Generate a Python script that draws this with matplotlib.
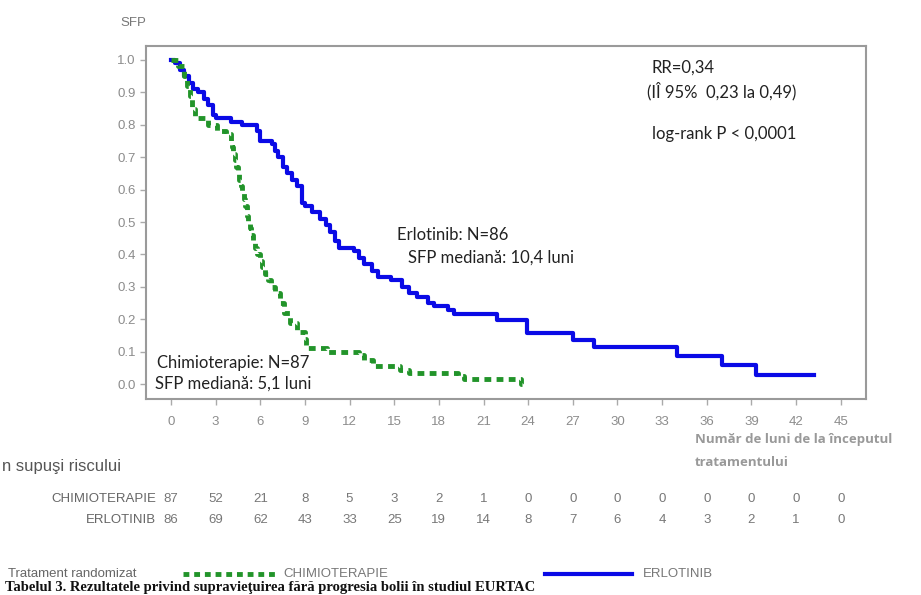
import matplotlib
matplotlib.use("Agg")
import matplotlib.pyplot as plt
from matplotlib.lines import Line2D
from matplotlib.transforms import blended_transform_factory

# Kaplan-Meier steps
erlo_t = [0, 0.3, 0.6, 0.9, 1.2, 1.5, 1.8, 2.2, 2.5, 2.8, 3.0, 4.0, 4.8, 5.8, 6.0, 6.8,
          7.0, 7.2, 7.5, 7.8, 8.1, 8.5, 8.8, 9.0, 9.5, 10.0, 10.4, 10.7, 11.0, 11.3, 12.3,
          12.6, 13.0, 13.5, 13.9, 14.8, 15.5, 16.0, 16.5, 17.3, 17.7, 18.6, 19.0, 21.9,
          23.9, 27.0, 28.4, 34.0, 37.0, 39.3, 43.2]
erlo_s = [1.0, 0.99, 0.97, 0.95, 0.93, 0.91, 0.90, 0.88, 0.86, 0.83, 0.82, 0.81, 0.80,
          0.78, 0.75, 0.74, 0.72, 0.70, 0.67, 0.65, 0.63, 0.61, 0.56, 0.55, 0.53, 0.51,
          0.49, 0.47, 0.44, 0.42, 0.41, 0.39, 0.37, 0.35, 0.33, 0.32, 0.30, 0.28, 0.27,
          0.25, 0.24, 0.23, 0.215, 0.198, 0.158, 0.136, 0.115, 0.087, 0.059, 0.028, 0.028]

chemo_t = [0, 0.5, 0.9, 1.1, 1.3, 1.4, 1.6, 2.5, 3.1, 3.7, 4.0, 4.1, 4.2, 4.3, 4.4, 4.5,
           4.6, 4.7, 4.8, 4.9, 5.0, 5.1, 5.2, 5.3, 5.4, 5.5, 5.65, 5.8, 5.95, 6.1, 6.3,
           6.5, 6.7, 7.0, 7.3, 7.6, 8.0, 8.5, 9.0, 9.1, 10.5, 12.6, 13.0, 13.6, 15.4,
           16.0, 19.3, 19.7, 23.5, 23.6]
chemo_s = [1.0, 0.98, 0.95, 0.92, 0.89, 0.85, 0.82, 0.80, 0.78, 0.77, 0.75, 0.73, 0.71,
           0.69, 0.67, 0.65, 0.63, 0.61, 0.59, 0.57, 0.55, 0.52, 0.50, 0.48, 0.46, 0.44,
           0.42, 0.40, 0.38, 0.36, 0.34, 0.32, 0.30, 0.28, 0.25, 0.22, 0.19, 0.16, 0.14,
           0.11, 0.10, 0.09, 0.075, 0.055, 0.043, 0.034, 0.025, 0.015, 0.0, 0.0]

months = list(range(0, 46, 3))
risk_chemo = [87, 52, 21, 8, 5, 3, 2, 1, 0, 0, 0, 0, 0, 0, 0, 0]
risk_erlo = [86, 69, 62, 43, 33, 25, 19, 14, 8, 7, 6, 4, 3, 2, 1, 0]

blue = "#0a0ae6"
green = "#22942a"
grey = "#8c8c8c"
calibri = ["Lato", "DejaVu Sans"]
narrow = ["Liberation Sans Narrow", "Liberation Sans", "DejaVu Sans"]

fig = plt.figure(figsize=(9.21, 5.95), dpi=100)
ax = fig.add_axes([0.1585, 0.3294, 0.7818, 0.5933])

ax.step(erlo_t, erlo_s, where="post", color=blue, lw=3.0, zorder=3)
ax.step(chemo_t, chemo_s, where="post", color=green, lw=3.5,
        linestyle=(0, (1.4, 1.1)), zorder=3)

ax.set_xlim(-1.68, 46.7)
ax.set_ylim(-0.046, 1.043)
ax.set_xticks(months)
ax.set_yticks([i / 10 for i in range(11)])
ax.set_yticklabels([f"{i / 10:.1f}" for i in range(11)])
ax.tick_params(colors="#aaaaaa", labelcolor=grey, labelsize=9.5, length=4, width=1)
for lab in ax.get_xticklabels() + ax.get_yticklabels():
    lab.set_family(narrow)
ax.tick_params(axis="x", pad=8)
for sp in ax.spines.values():
    sp.set_color("#9a9a9a")
    sp.set_linewidth(1.5)

fig.text(120 / 921, 1 - 23 / 595, "SFP", color="#777777", fontsize=9.5,
         va="center", ha="left", family=narrow)

# annotations
ax.text(32.3, 0.975, "RR=0,34", fontsize=12, family=calibri, va="center", color="#222222")
ax.text(32.0, 0.905, "(IÎ 95%  0,23 la 0,49)", fontsize=12, family=calibri,
        va="center", color="#222222")
ax.text(32.3, 0.77, "log-rank P < 0,0001", fontsize=12, family=calibri,
        va="center", color="#222222")
ax.text(15.2, 0.46, "Erlotinib: N=86", fontsize=12, family=calibri, va="center",
        color="#222222")
ax.text(15.9, 0.39, "SFP mediană: 10,4 luni", fontsize=12, family=calibri,
        va="center", color="#222222")
ax.text(-0.95, 0.065, "Chimioterapie: N=87", fontsize=12, family=calibri,
        va="center", color="#222222", zorder=4)
ax.text(-1.1, 0.0, "SFP mediană: 5,1 luni", fontsize=12, family=calibri,
        va="center", color="#222222", zorder=4)

fig.text(695 / 921, 1 - 440 / 595, "Număr de luni de la începutul", color="#999999",
         fontsize=9.5, fontweight="bold", family=["Open Sans", "DejaVu Sans"], va="center")
fig.text(695 / 921, 1 - 462 / 595, "tratamentului", color="#999999",
         fontsize=9.5, fontweight="bold", family=["Open Sans", "DejaVu Sans"], va="center")

# number at risk table
fig.text(2 / 921, 1 - 467 / 595, "n supuşi riscului", color="#555555", fontsize=12,
         family=narrow, va="center")
trans = blended_transform_factory(ax.transData, fig.transFigure)
row_y = [1 - 499 / 595, 1 - 520 / 595]
ax.text(-1.0, row_y[0], "CHIMIOTERAPIE", transform=trans, ha="right", va="center",
        color="#666666", fontsize=9.5, family=narrow)
ax.text(-1.0, row_y[1], "ERLOTINIB", transform=trans, ha="right", va="center",
        color="#666666", fontsize=9.5, family=narrow)
for m, c, e in zip(months, risk_chemo, risk_erlo):
    ax.text(m, row_y[0], str(c), transform=trans, ha="center", va="center",
            color="#777777", fontsize=9.5, family=narrow)
    ax.text(m, row_y[1], str(e), transform=trans, ha="center", va="center",
            color="#777777", fontsize=9.5, family=narrow)

# legend
ly = 1 - 574 / 595
fig.text(8 / 921, ly, "Tratament randomizat", color="#666666", fontsize=9.5,
         family=narrow, va="center")
fig.add_artist(Line2D([183 / 921, 275 / 921], [ly, ly], transform=fig.transFigure,
                      color=green, lw=3.5, linestyle=(0, (1.2, 1.0))))
fig.text(283 / 921, ly, "CHIMIOTERAPIE", color="#777777", fontsize=9.5,
         family=narrow, va="center")
fig.add_artist(Line2D([545 / 921, 632 / 921], [ly, ly], transform=fig.transFigure,
                      color=blue, lw=3.0))
fig.text(643 / 921, ly, "ERLOTINIB", color="#777777", fontsize=9.5,
         family=narrow, va="center")

# caption at the lower edge
fig.text(5 / 921, 1 / 595,
         "Tabelul 3. Rezultatele privind supravieţuirea fără progresia bolii în studiul EURTAC",
         fontsize=10.5, fontweight="bold", family=["Liberation Serif", "DejaVu Serif"],
         va="bottom", color="#111111")

fig.savefig("out.png", dpi=100)
